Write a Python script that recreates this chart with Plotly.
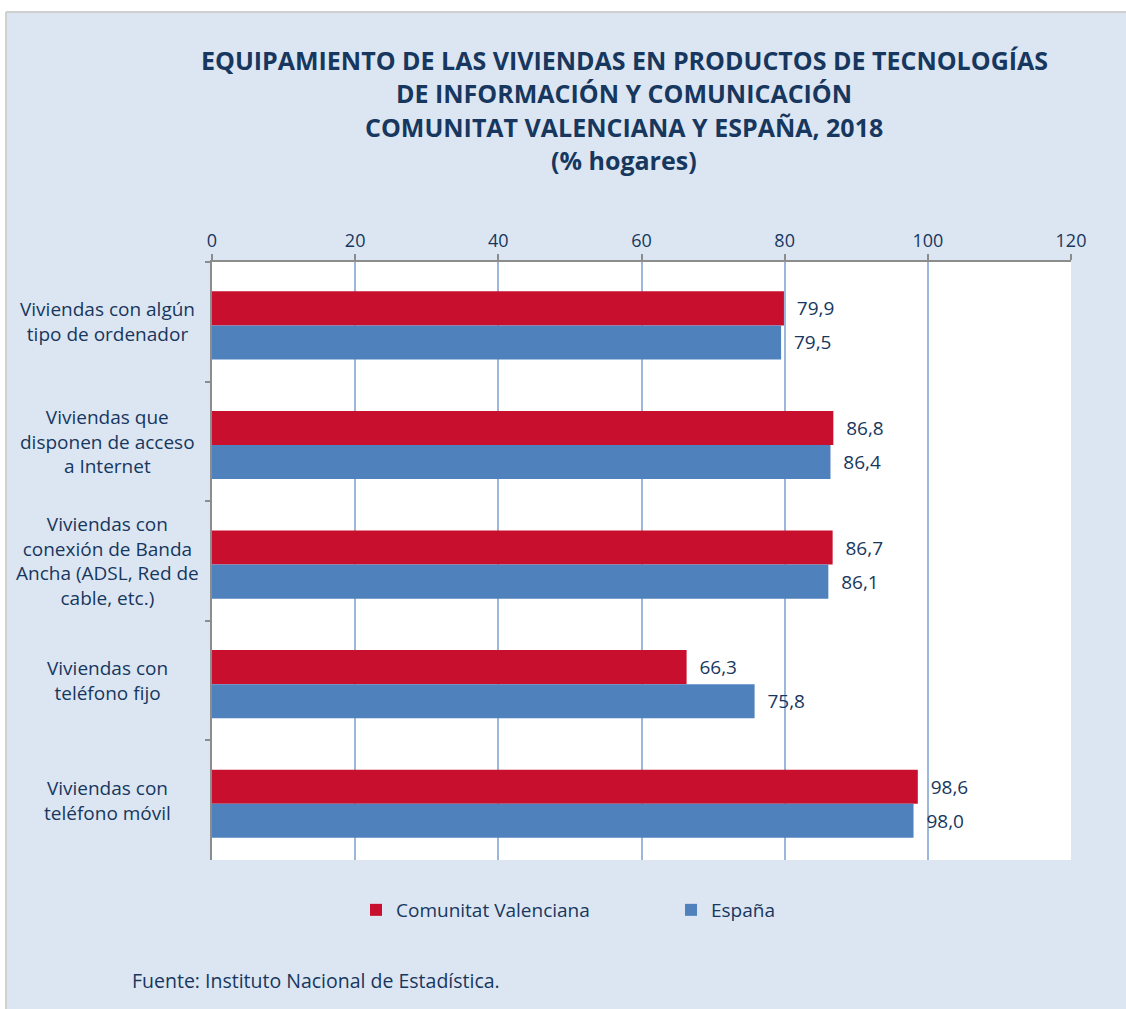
import plotly.graph_objects as go

categories = [
    "Viviendas con algún<br>tipo de ordenador",
    "Viviendas que<br>disponen de acceso<br>a Internet",
    "Viviendas con<br>conexión de Banda<br>Ancha (ADSL, Red de<br>cable, etc.)",
    "Viviendas con<br>teléfono fijo",
    "Viviendas con<br>teléfono móvil",
]
valenciana = [79.9, 86.8, 86.7, 66.3, 98.6]
espana = [79.5, 86.4, 86.1, 75.8, 98.0]
series_names = ["Comunitat Valenciana", "España"]
x_ticks = [0, 20, 40, 60, 80, 100, 120]
title_lines = [
    "EQUIPAMIENTO DE LAS VIVIENDAS EN PRODUCTOS DE TECNOLOGÍAS",
    "DE INFORMACIÓN Y COMUNICACIÓN",
    "COMUNITAT VALENCIANA Y ESPAÑA, 2018",
    "(% hogares)",
]
source = "Fuente: Instituto Nacional de Estadística."

TXT = "#17375e"
FONT = "Open Sans"
W, H = 1126, 1009
ML, MR, MT, MB = 212, 55, 262, 149
PW, PH = W - ML - MR, H - MT - MB


def px(xp):
    return (xp - ML) / PW


def py(yp):
    return (H - MB - yp) / PH


BW = 0.285  # bar thickness in category units
fig = go.Figure()
fig.add_trace(go.Bar(
    y=categories, x=valenciana, name=series_names[0], orientation="h",
    marker=dict(color="#c8102e", line=dict(width=0)),
    width=BW, offset=-BW + 0.03,
    texttemplate="\u00a0\u00a0%{x:.1f}", textposition="outside",
    textfont=dict(color=TXT, size=19, family=FONT), cliponaxis=False,
    constraintext="none",
))
fig.add_trace(go.Bar(
    y=categories, x=espana, name=series_names[1], orientation="h",
    marker=dict(color="#4f81bd", line=dict(width=0)),
    width=BW, offset=0.03,
    texttemplate="\u00a0\u00a0%{x:.1f}", textposition="outside",
    textfont=dict(color=TXT, size=19, family=FONT), cliponaxis=False,
    constraintext="none",
))

annotations = []
title_y = [60, 93, 127, 160]
for line, yy in zip(title_lines, title_y):
    annotations.append(dict(
        text="<b>" + line + "</b>", xref="paper", yref="paper",
        x=px(624), y=py(yy), xanchor="center", yanchor="middle",
        showarrow=False, font=dict(size=25, color=TXT, family=FONT),
    ))
for cat in categories:
    annotations.append(dict(
        text=cat, xref="paper", yref="y", x=px(107), y=cat,
        xanchor="center", yanchor="middle", align="center",
        showarrow=False, font=dict(size=19, color=TXT, family=FONT),
    ))
annotations.append(dict(
    text=source, xref="paper", yref="paper", x=px(130), y=py(980),
    xanchor="left", yanchor="middle", showarrow=False,
    font=dict(size=19.5, color=TXT, family=FONT),
))

FRAME = "#d0d0d0"
shapes = [
    dict(type="rect", xref="paper", yref="paper", layer="below",
         x0=px(6), x1=px(1140), y0=py(1020), y1=py(12),
         fillcolor="#dce6f2", line=dict(width=0)),
    dict(type="line", xref="paper", yref="paper", layer="below",
         x0=px(6), x1=px(1140), y0=py(12), y1=py(12),
         line=dict(color=FRAME, width=2)),
    dict(type="line", xref="paper", yref="paper", layer="below",
         x0=px(6), x1=px(6), y0=py(12), y1=py(1020),
         line=dict(color=FRAME, width=2)),
    dict(type="rect", xref="paper", yref="paper", layer="below",
         x0=0, x1=1, y0=0, y1=1, fillcolor="white", line=dict(width=0)),
]

fig.update_layout(
    width=W, height=H,
    margin=dict(l=ML, r=MR, t=MT, b=MB),
    paper_bgcolor="white", plot_bgcolor="white",
    barmode="group", bargap=0.43, bargroupgap=0,
    separators=",.",
    font=dict(family=FONT, color=TXT, size=19),
    showlegend=True,
    legend=dict(orientation="h", x=px(356), y=py(910), xanchor="left",
                yanchor="middle", bgcolor="rgba(0,0,0,0)",
                entrywidth=270, entrywidthmode="pixels",
                font=dict(size=19, color=TXT, family=FONT),
                traceorder="normal"),
    annotations=annotations,
    shapes=shapes,
    xaxis=dict(
        side="top", range=[0, 120], tickvals=x_ticks,
        showgrid=True, gridcolor="#9bb7da", gridwidth=2,
        zeroline=False, showline=True, linecolor="#8c8c8c", linewidth=2,
        ticks="outside", ticklen=6, tickcolor="#8c8c8c", tickwidth=2,
        tickfont=dict(size=18, color=TXT, family=FONT),
        fixedrange=True,
    ),
    yaxis=dict(
        autorange="reversed", showticklabels=False,
        showgrid=False, zeroline=False,
        showline=True, linecolor="#8c8c8c", linewidth=2,
        ticks="outside", tickson="boundaries", ticklen=5,
        tickcolor="#8c8c8c", tickwidth=2,
        fixedrange=True,
    ),
)

fig.write_html(
    "out.html",
    config={"displayModeBar": False},
    post_script="document.body.style.margin='0';document.body.style.overflow='hidden';",
)
